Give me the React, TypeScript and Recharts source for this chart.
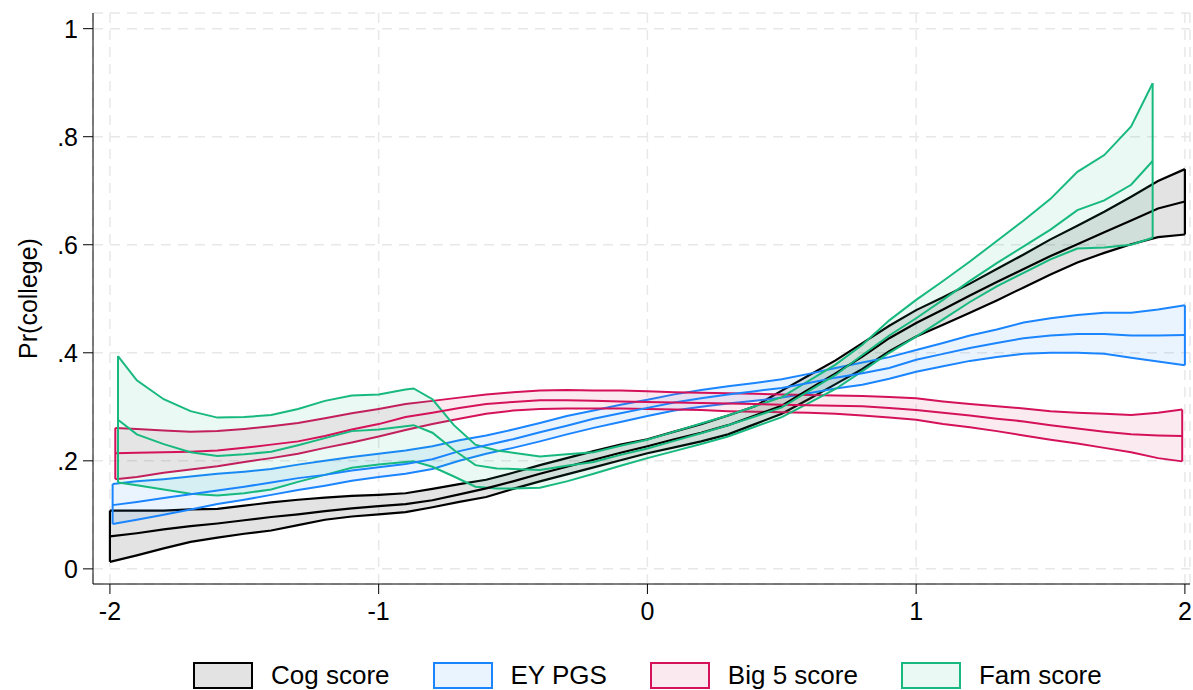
import React from 'react';
import { ComposedChart, Area, Line, XAxis, YAxis, CartesianGrid, Legend } from 'recharts';

// shared x grid for the smoothed curves
const grid = [-2, -1.9, -1.8, -1.7, -1.6, -1.5, -1.4, -1.3, -1.2, -1.1, -1, -0.9, -0.8, -0.7, -0.6, -0.5, -0.4, -0.3, -0.2, -0.1, 0, 0.1, 0.2, 0.3, 0.4, 0.5, 0.6, 0.7, 0.8, 0.9, 1, 1.1, 1.2, 1.3, 1.4, 1.5, 1.6, 1.7, 1.8, 1.9, 2];

// Cog score
const cogX = grid;
const cogHi = [.108,.108,.108,.110,.111,.117,.123,.128,.132,.135,.137,.140,.148,.157,.165,.178,.192,.205,.218,.230,.240,.254,.268,.284,.301,.330,.358,.386,.418,.450,.479,.503,.528,.555,.582,.610,.635,.661,.689,.718,.740];
const cogMid = [.060,.066,.073,.079,.084,.090,.096,.101,.107,.112,.116,.120,.127,.138,.149,.162,.176,.189,.202,.215,.227,.240,.252,.266,.284,.302,.332,.362,.393,.427,.455,.480,.506,.531,.555,.579,.601,.623,.645,.667,.680];
const cogLo = [.013,.025,.038,.050,.058,.065,.071,.081,.091,.097,.101,.105,.114,.124,.133,.148,.162,.175,.188,.201,.214,.225,.236,.249,.268,.287,.314,.342,.370,.403,.430,.452,.474,.497,.521,.545,.567,.585,.601,.614,.619];

// EY PGS
const eyX = [-1.99, ...grid.slice(1)];
const eyHi = [.157,.162,.166,.171,.176,.180,.185,.193,.200,.207,.213,.219,.227,.238,.247,.258,.270,.283,.293,.304,.313,.323,.331,.338,.344,.351,.361,.372,.382,.392,.405,.418,.432,.443,.456,.464,.470,.474,.474,.480,.488];
const eyMid = [.118,.124,.131,.138,.145,.152,.160,.168,.174,.182,.188,.194,.203,.218,.229,.240,.253,.265,.278,.288,.298,.308,.316,.323,.329,.335,.344,.354,.362,.372,.387,.398,.409,.418,.427,.432,.435,.435,.432,.432,.433];
const eyLo = [.083,.091,.100,.110,.120,.128,.137,.146,.154,.163,.170,.176,.185,.200,.213,.224,.236,.249,.261,.272,.283,.293,.300,.306,.311,.317,.325,.334,.341,.352,.365,.375,.385,.392,.398,.400,.400,.398,.391,.384,.377];

// Big 5 score
const b5X = [-1.98, ...grid.slice(1, -1), 1.99];
const b5Hi = [.261,.259,.256,.254,.255,.259,.264,.270,.279,.288,.296,.305,.311,.317,.323,.327,.330,.331,.330,.330,.329,.327,.326,.325,.324,.323,.322,.321,.320,.318,.316,.310,.305,.301,.297,.292,.289,.287,.285,.289,.295];
const b5Mid = [.214,.215,.216,.217,.219,.224,.230,.236,.246,.258,.268,.281,.289,.298,.305,.309,.312,.312,.311,.310,.309,.308,.307,.306,.305,.304,.303,.302,.301,.298,.294,.289,.284,.278,.273,.266,.260,.254,.249,.247,.246];
const b5Lo = [.166,.170,.178,.184,.190,.198,.205,.213,.224,.234,.245,.257,.268,.278,.287,.293,.296,.297,.297,.297,.296,.295,.294,.292,.291,.290,.289,.287,.284,.280,.276,.268,.262,.255,.247,.239,.232,.224,.216,.205,.199];

// Fam score
const famX = [-1.97, -1.9, -1.8, -1.7, -1.6, -1.5, -1.4, -1.3, -1.2, -1.1, -1, -0.9, -0.87, -0.8, -0.72, -0.64, -0.56, -0.5, -0.4, -0.3, -0.2, -0.1, 0, 0.1, 0.2, 0.3, 0.4, 0.5, 0.6, 0.7, 0.8, 0.9, 1, 1.1, 1.2, 1.3, 1.4, 1.5, 1.6, 1.7, 1.8, 1.88];
const famHi = [.394,.349,.314,.292,.280,.281,.285,.296,.311,.321,.323,.332,.334,.314,.266,.230,.219,.215,.208,.212,.216,.228,.239,.254,.269,.284,.301,.318,.348,.378,.415,.460,.498,.533,.569,.607,.645,.685,.735,.766,.819,.899];
const famMid = [.276,.249,.231,.216,.209,.212,.217,.229,.242,.255,.258,.264,.266,.252,.220,.192,.186,.185,.183,.191,.198,.211,.223,.237,.251,.266,.282,.299,.329,.359,.396,.432,.464,.498,.533,.566,.597,.628,.664,.682,.711,.755];
const famLo = [.160,.155,.147,.139,.136,.140,.147,.161,.174,.187,.193,.198,.199,.189,.171,.152,.149,.149,.150,.162,.176,.191,.205,.218,.231,.245,.263,.281,.307,.333,.366,.400,.430,.462,.494,.523,.548,.573,.593,.595,.600,.613];

const xTicks = [-2, -1, 0, 1, 2];
const yTicks = [0, 0.2, 0.4, 0.6, 0.8, 1];

type Row = { x: number; band: [number, number]; mid: number };

const rows = (xs: number[], lo: number[], mid: number[], hi: number[]): Row[] =>
  xs.map((x, i) => ({ x, band: [lo[i], hi[i]], mid: mid[i] }));

const series = [
  { name: 'Cog score', color: '#000000', width: 2.2, fillOpacity: 0.11, data: rows(cogX, cogLo, cogMid, cogHi) },
  { name: 'EY PGS', color: '#1a85ff', width: 2, fillOpacity: 0.09, data: rows(eyX, eyLo, eyMid, eyHi) },
  { name: 'Big 5 score', color: '#d41159', width: 2, fillOpacity: 0.09, data: rows(b5X, b5Lo, b5Mid, b5Hi) },
  { name: 'Fam score', color: '#17b97f', width: 2, fillOpacity: 0.09, data: rows(famX, famLo, famMid, famHi) },
];

// vertical edges that close each band at its first and last point
const caps = (data: Row[]) => {
  const a = data[0];
  const b = data[data.length - 1];
  return [
    [{ x: a.x, cap: a.band[0] }, { x: a.x, cap: a.band[1] }],
    [{ x: b.x, cap: b.band[0] }, { x: b.x, cap: b.band[1] }],
  ];
};

const FONT = '"Liberation Sans", Arial, Helvetica, sans-serif';

const fmtY = (v: number) => (v === 0 ? '0' : v === 1 ? '1' : String(v).replace(/^0/, ''));

const renderLegend = () => (
  <div style={{ display: 'flex', justifyContent: 'flex-start', height: 34, paddingTop: 7, paddingLeft: 193, boxSizing: 'border-box', fontFamily: FONT, fontSize: 26 }}>
    {series.map((s) => (
      <div key={s.name} style={{ display: 'flex', alignItems: 'center', marginRight: 43, height: 25 }}>
        <div
          style={{
            width: 56,
            height: 23,
            border: `2px solid ${s.color}`,
            background: s.color,
            position: 'relative',
            marginRight: 18,
          }}
        >
          <div style={{ position: 'absolute', inset: 0, background: '#fff', opacity: 1 - s.fillOpacity }} />
        </div>
        <span style={{ color: '#000', lineHeight: '25px', whiteSpace: 'nowrap' }}>{s.name}</span>
      </div>
    ))}
  </div>
);

const YLabel = (props: any) => {
  const vb = props.viewBox || {};
  const cx = vb.x + 28;
  const cy = vb.y + vb.height / 2;
  return (
    <text x={cx} y={cy} transform={`rotate(-90 ${cx} ${cy})`} textAnchor="middle" dominantBaseline="central" fontSize={25} fontFamily={FONT} fill="#000">
      Pr(college)
    </text>
  );
};

export default function App() {
  return (
    <div style={{ position: 'absolute', left: 0, top: 0, width: 1193, height: 690, background: '#fff', overflow: 'hidden' }}>
      <ComposedChart width={1193} height={690} margin={{ top: 13, right: 3, left: 0, bottom: 0 }}>
        <CartesianGrid stroke="#e8e8e8" strokeWidth={1.5} strokeDasharray="10 7" />
        <XAxis
          type="number"
          dataKey="x"
          domain={[-2.063, 2.019]}
          ticks={xTicks}
          allowDataOverflow
          height={72}
          tickSize={10}
          tickMargin={8}
          stroke="#000"
          tick={{ fill: '#000', fontSize: 25, fontFamily: FONT }}
        />
        <YAxis
          type="number"
          domain={[-0.028, 1.029]}
          ticks={yTicks}
          allowDataOverflow
          width={93}
          tickSize={10}
          tickMargin={5}
          stroke="#000"
          tickFormatter={fmtY}
          tick={{ fill: '#000', fontSize: 25, fontFamily: FONT }}
          label={{ content: YLabel }}
        />
        {series.map((s) => (
          <React.Fragment key={s.name}>
            <Area
              data={s.data}
              dataKey="band"
              type="linear"
              stroke={s.color}
              strokeWidth={s.width}
              fill={s.color}
              fillOpacity={s.fillOpacity}
              dot={false}
              activeDot={false}
              legendType="none"
              isAnimationActive={false}
            />
            <Line data={s.data} dataKey="mid" type="linear" stroke={s.color} strokeWidth={s.width} dot={false} activeDot={false} legendType="none" isAnimationActive={false} />
            {caps(s.data).map((c, i) => (
              <Line key={i} data={c} dataKey="cap" type="linear" stroke={s.color} strokeWidth={s.width} dot={false} activeDot={false} legendType="none" isAnimationActive={false} />
            ))}
          </React.Fragment>
        ))}
        <Legend verticalAlign="bottom" content={renderLegend} wrapperStyle={{ left: 0, bottom: 0, width: 1193, height: 34 }} />
      </ComposedChart>
    </div>
  );
}
